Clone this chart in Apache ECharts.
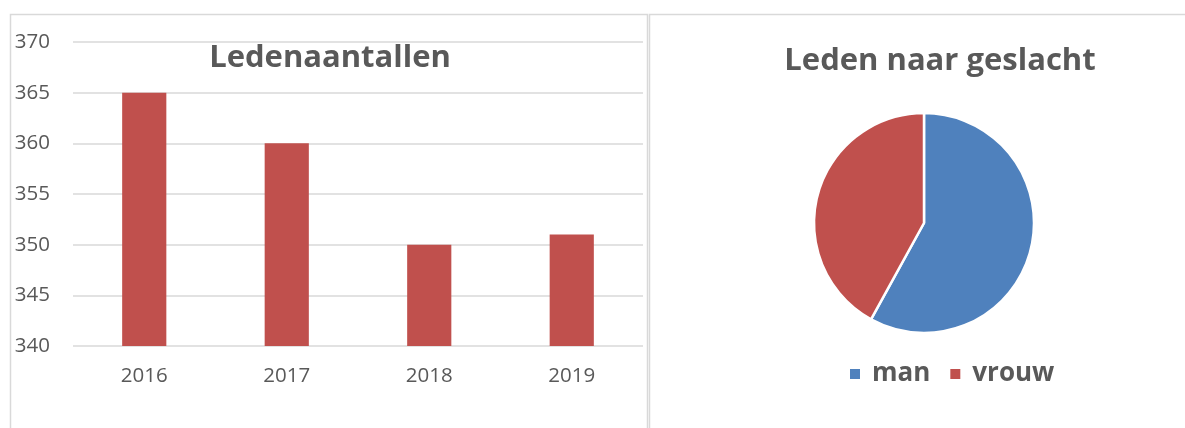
<!DOCTYPE html>
<html><head><meta charset="utf-8">
<script src="https://cdn.jsdelivr.net/npm/echarts@6/dist/echarts.min.js"></script>
<style>html,body{margin:0;padding:0;background:#fff}#c{width:1185px;height:428px}</style>
</head><body><div id="c"></div>
<script>
const years = ['2016','2017','2018','2019'];
const members = [365, 360, 350, 351];
const genderNames = ['man','vrouw'];
const genderValues = [58, 42];
const yTicks = {min:340, max:370, interval:5};

const chart = echarts.init(document.getElementById('c'));
const FONT = '"Open Sans", Lato, sans-serif';
const TXT = '#595959';
chart.setOption({
  animation:false,
  graphic:[
    {type:'rect', shape:{x:10.5,y:14.5,width:637,height:500}, style:{fill:'none',stroke:'#D9D9D9',lineWidth:1.5}, z:-1},
    {type:'rect', shape:{x:649.5,y:14.5,width:600,height:500}, style:{fill:'none',stroke:'#D9D9D9',lineWidth:1.5}, z:-1}
  ],
  title:[
    {text:'Ledenaantallen', left:325, top:38, textAlign:'center',
     textStyle:{fontFamily:FONT,fontWeight:'bold',fontSize:31,color:TXT}},
    {text:'Leden naar geslacht', left:935, top:41, textAlign:'center',
     textStyle:{fontFamily:FONT,fontWeight:'bold',fontSize:31,color:TXT}}
  ],
  grid:{left:73, right:542, top:42, bottom:82},
  xAxis:{type:'category', data:years,
    axisLine:{show:false}, axisTick:{show:false},
    axisLabel:{fontFamily:FONT,fontSize:20.5,color:TXT,margin:20}},
  yAxis:{type:'value', min:yTicks.min, max:yTicks.max, interval:yTicks.interval,
    axisLine:{show:false}, axisTick:{show:false},
    splitLine:{lineStyle:{color:'#D9D9D9',width:1.5}},
    axisLabel:{fontFamily:FONT,fontSize:20.5,color:TXT,margin:23}},
  legend:{data:genderNames, left:843, top:356, itemWidth:12, itemHeight:12, itemGap:18,
    icon:'rect', textStyle:{fontFamily:FONT,fontWeight:'bold',fontSize:26,color:TXT,padding:[0,0,0,6]}},
  series:[
    {type:'bar', data:members, barWidth:'31%', itemStyle:{color:'#C0504D'}},
    {type:'pie', center:[924,223], radius:110, startAngle:90, clockwise:true,
     label:{show:false}, labelLine:{show:false},
     itemStyle:{borderColor:'#fff',borderWidth:2.5},
     data:genderNames.map((n,i)=>({name:n,value:genderValues[i],
       itemStyle:{color:i===0?'#4F81BD':'#C0504D'}}))}
  ]
});
</script></body></html>
